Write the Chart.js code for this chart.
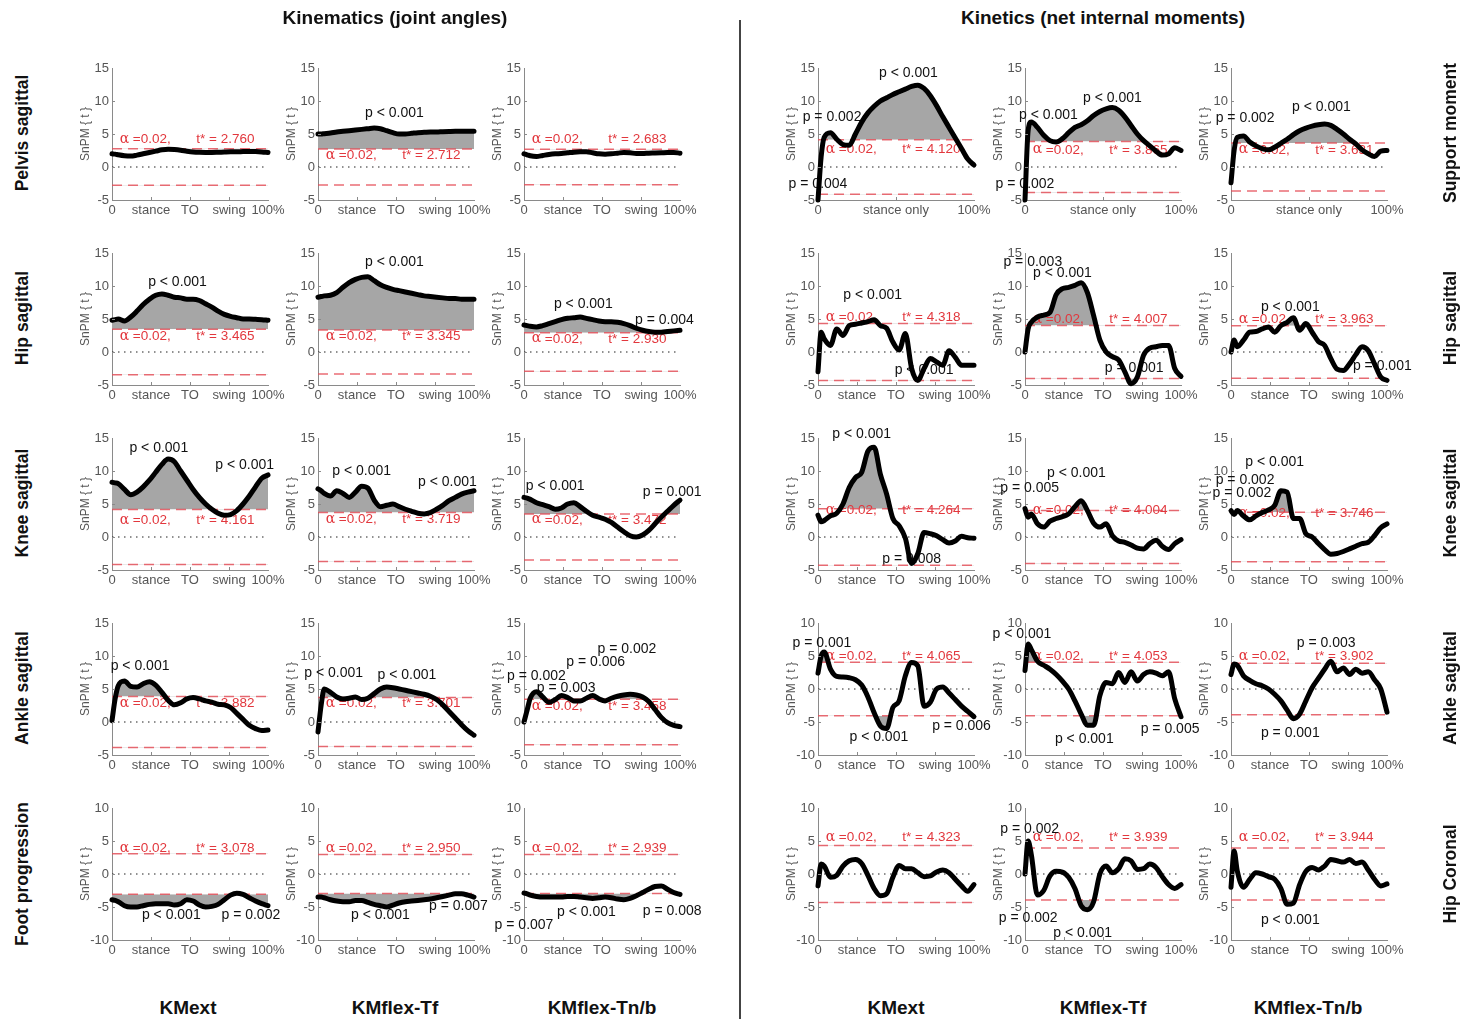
<!DOCTYPE html>
<html>
<head>
<meta charset="utf-8">
<script src="https://cdn.jsdelivr.net/npm/chart.js@4.4.1/dist/chart.umd.min.js"></script>
<style>
  html, body { margin: 0; padding: 0; background: #fff; }
  body { width: 1465px; height: 1019px; position: relative; overflow: hidden;
         font-family: "Liberation Sans", Arial, sans-serif; color: #111; }
  canvas.panel { position: absolute; }
  .head { position: absolute; font-weight: bold; font-size: 19px; white-space: nowrap;
          transform: translate(-50%, -50%); }
  .foot { position: absolute; font-weight: bold; font-size: 19px; white-space: nowrap;
          transform: translate(-50%, -50%); }
  .side { position: absolute; font-weight: bold; font-size: 17.5px; white-space: nowrap;
          transform: translate(-50%, -50%) rotate(-90deg); }
  .divider { position: absolute; left: 739px; top: 20px; width: 1.5px; height: 999px; background: #444; }
</style>
</head>
<body>
<div class="divider"></div>
<script>
// ---- gait-cycle sampling (% of cycle) shared by every SnPM{t} curve ----
const PCT = [0, 2, 4, 8, 12, 16, 20, 24, 28, 32, 36, 40, 44, 48, 52, 56, 60, 64, 68, 72, 76, 80, 84, 88, 92, 96, 100];

const GROUPS = ['KMext', 'KMflex-Tf', 'KMflex-Tn/b'];
const KINEMATIC_ROWS = ['Pelvis sagittal', 'Hip sagittal', 'Knee sagittal', 'Ankle sagittal', 'Foot progression'];
const KINETIC_ROWS = ['Support moment', 'Hip sagittal', 'Knee sagittal', 'Ankle sagittal', 'Hip Coronal'];
const GAIT_TICKS = [0, 25, 50, 75, 100];
const GAIT_LABELS = ['0', 'stance', 'TO', 'swing', '100%'];
const STANCE_TICKS = [0, 50, 100];
const STANCE_LABELS = ['0', 'stance only', '100%'];
const ALPHA = '0.02';

// ---- kinematics (joint angles) ----
const pelvisExt = [2.0,1.95,1.85,1.7,1.65,1.8,2.0,2.2,2.4,2.6,2.7,2.65,2.55,2.4,2.28,2.22,2.2,2.2,2.23,2.27,2.3,2.3,2.33,2.35,2.33,2.28,2.2];
const pelvisTf  = [5.0,5.0,5.05,5.15,5.3,5.4,5.5,5.6,5.7,5.8,5.9,5.8,5.5,5.2,5.0,5.0,5.1,5.2,5.25,5.3,5.3,5.35,5.38,5.4,5.4,5.4,5.4];
const pelvisTnb = [2.0,1.85,1.7,1.6,1.75,1.9,2.0,2.05,2.15,2.25,2.3,2.3,2.15,2.0,1.95,2.0,2.1,2.2,2.15,2.05,2.05,2.1,2.12,2.15,2.2,2.2,2.1];
const hipExt    = [4.8,4.9,5.0,4.7,5.3,6.2,7.2,8.0,8.6,8.8,8.6,8.3,8.2,8.0,8.0,7.8,7.3,6.8,6.2,5.7,5.4,5.2,5.0,5.0,4.95,4.9,4.8];
const hipTf     = [8.3,8.4,8.5,8.6,9.0,9.8,10.5,11.0,11.3,11.4,10.8,10.2,9.8,9.5,9.3,9.1,8.9,8.7,8.5,8.4,8.3,8.2,8.1,8.1,8.0,8.0,8.0];
const hipTnb    = [4.1,4.0,3.9,3.8,4.0,4.3,4.6,4.9,5.1,5.2,5.3,5.1,4.9,4.7,4.6,4.6,4.5,4.3,4.0,3.6,3.3,3.1,3.0,3.0,3.1,3.2,3.3];
const kneeExt   = [8.3,8.2,8.1,7.2,6.4,6.8,7.6,8.6,9.8,11.0,11.8,11.4,10.0,8.6,7.2,6.0,5.0,4.2,3.6,3.3,3.4,4.0,5.0,6.2,7.6,8.9,9.4];
const kneeTf    = [7.3,7.0,6.6,6.2,7.0,6.6,6.0,6.8,7.7,7.4,5.6,4.6,4.8,5.0,4.6,4.2,3.9,3.6,3.5,3.7,4.2,4.8,5.5,6.0,6.5,6.8,7.0];
const kneeTnb   = [6.0,5.9,5.7,5.2,4.9,4.6,4.2,4.4,5.0,5.2,4.6,3.9,3.3,3.0,2.7,2.2,1.5,0.8,0.2,0.0,0.3,1.0,2.0,3.0,3.9,4.8,5.6];
const ankleExt  = [0.2,3.5,5.5,6.2,5.4,5.3,5.8,6.1,5.6,4.5,3.3,2.6,2.9,3.5,3.7,3.5,3.2,3.0,2.7,2.6,2.2,1.3,0.4,-0.5,-1.0,-1.3,-1.2];
const ankleTf   = [-1.5,2.5,5.0,4.5,3.8,3.5,3.6,3.8,3.4,3.6,4.3,5.0,5.3,5.2,5.0,4.8,4.6,4.4,4.2,3.9,3.4,2.6,1.6,0.6,-0.4,-1.3,-2.0];
const ankleTnb  = [0.0,1.8,3.6,4.6,3.8,3.0,3.4,4.0,3.7,3.2,3.2,3.6,4.0,3.5,3.2,3.6,3.9,4.1,4.2,4.1,3.8,3.1,1.9,0.7,-0.1,-0.5,-0.7];
const footExt   = [-3.9,-4.0,-4.2,-4.8,-5.0,-5.0,-4.8,-4.6,-4.5,-4.5,-4.5,-4.7,-4.5,-3.9,-4.1,-4.7,-5.0,-4.9,-4.6,-3.9,-3.2,-2.9,-3.1,-3.6,-4.1,-4.5,-4.8];
const footTf    = [-3.5,-3.5,-3.6,-3.9,-4.1,-4.2,-4.2,-4.0,-4.0,-4.3,-4.6,-4.8,-5.0,-4.7,-4.4,-4.2,-4.1,-4.0,-3.9,-3.8,-3.6,-3.4,-3.2,-3.0,-3.0,-3.2,-3.5];
const footTnb   = [-2.9,-3.0,-3.2,-3.4,-3.5,-3.5,-3.5,-3.5,-3.4,-3.4,-3.5,-3.6,-3.7,-3.6,-3.5,-3.6,-3.8,-3.9,-3.7,-3.3,-2.8,-2.3,-1.9,-1.8,-2.3,-2.8,-3.1];

// ---- kinetics (net internal moments) ----
const supportExt = [-5.0,1.5,4.5,5.2,4.2,3.4,3.3,5.0,6.8,8.2,9.2,10.0,10.5,11.0,11.4,11.8,12.2,12.4,11.9,10.8,9.3,7.6,6.0,4.4,2.8,1.2,0.3];
const supportTf  = [-5.0,5.5,6.8,6.0,4.8,4.0,3.8,4.3,5.2,6.0,6.4,7.0,7.8,8.4,8.8,9.0,8.6,7.6,6.3,5.0,4.0,3.2,2.4,1.8,2.0,2.9,2.5];
const supportTnb = [-2.4,2.5,4.5,4.7,3.8,3.2,2.8,2.6,3.0,3.6,4.2,4.9,5.5,5.9,6.2,6.4,6.5,6.3,5.7,5.0,4.2,3.5,2.6,2.0,1.6,2.4,2.5];
const hipMomExt  = [-3.0,3.0,2.0,1.0,3.5,2.5,4.0,4.2,4.4,4.6,4.9,4.0,3.6,1.5,0.3,2.8,-2.5,-4.3,-2.5,-1.0,-1.5,-2.0,0.2,-0.8,-2.0,-2.0,-2.0];
const hipMomTf   = [0.0,3.5,4.5,5.3,5.6,6.0,8.7,9.6,9.8,10.1,10.5,9.0,5.5,1.8,0.0,-0.7,-1.2,-3.0,-4.8,-3.8,-0.5,0.6,0.8,1.0,1.0,-2.5,-3.7];
const hipMomTnb  = [0.0,1.8,0.8,1.8,3.0,3.1,3.5,3.8,3.0,4.0,4.5,5.2,3.3,4.3,3.0,1.6,1.0,-1.0,-2.6,-2.8,-1.8,-0.4,0.8,0.2,-1.8,-3.8,-4.3];
const kneeMomExt = [3.3,2.3,2.5,3.2,3.6,5.0,7.5,9.0,9.8,13.0,13.6,9.5,6.5,2.8,1.7,-0.2,-4.0,-2.5,0.7,0.5,0.2,-0.4,-0.9,-0.6,0.1,-0.1,-0.2];
const kneeMomTf  = [4.3,3.0,3.5,2.0,1.5,2.4,2.8,3.1,3.5,4.6,5.5,4.0,2.1,1.5,2.0,0.2,-0.6,-0.8,-1.2,-1.7,-1.8,-1.0,-0.5,-1.4,-1.9,-1.0,-0.4];
const kneeMomTnb = [4.0,3.4,4.0,3.2,2.6,3.2,3.7,4.1,4.8,7.0,6.8,2.8,2.8,0.5,0.0,-1.0,-1.9,-2.6,-2.5,-2.2,-1.8,-1.4,-1.0,-0.8,0.2,1.4,2.0];
const ankleMomExt = [2.4,5.0,5.6,3.0,1.9,1.8,1.7,1.4,0.6,-1.2,-3.6,-5.6,-6.0,-2.8,-1.8,2.0,4.0,3.5,-2.6,-2.0,0.0,0.3,-0.6,-1.6,-2.6,-3.4,-4.2];
const ankleMomTf  = [2.8,6.8,6.0,4.2,3.6,3.0,2.2,1.2,0.0,-1.8,-3.8,-5.5,-5.5,-1.0,1.0,0.8,2.5,1.0,2.6,1.2,2.2,2.6,2.4,2.0,2.6,-1.5,-4.2];
const ankleMomTnb = [2.2,3.8,3.6,2.0,1.3,0.8,0.5,0.0,-0.8,-1.8,-3.2,-4.5,-3.8,-1.8,0.2,1.6,3.0,4.2,2.6,3.2,2.2,3.0,2.4,2.6,1.4,0.0,-3.5];
const hipCorExt  = [-1.8,1.5,1.2,-0.5,-0.2,1.2,2.0,2.2,1.6,-0.2,-2.2,-3.3,-3.0,-0.5,1.3,0.8,0.8,0.2,-0.4,-0.3,0.3,0.6,0.2,-0.8,-1.8,-2.6,-1.6];
const hipCorTf   = [0.0,5.0,3.0,-3.2,-2.5,-0.3,0.4,0.3,-0.5,-2.2,-4.8,-5.4,-4.2,0.0,1.2,0.2,0.8,2.3,2.0,0.7,0.8,1.5,1.0,-0.4,-1.6,-2.2,-1.6];
const hipCorTnb  = [-2.0,3.5,0.5,-2.0,-0.8,0.2,0.0,-0.4,-0.8,-2.2,-4.6,-4.4,-1.6,0.4,1.0,0.6,1.2,2.2,2.0,1.8,2.2,1.6,1.8,0.6,-0.8,-1.8,-1.5];

// critical thresholds t* (rows x groups)
const T_KINEMATICS = [[2.760, 2.712, 2.683], [3.465, 3.345, 2.930], [4.161, 3.719, 3.472], [3.882, 3.701, 3.458], [3.078, 2.950, 2.939]];
const T_KINETICS   = [[4.120, 3.865, 3.631], [4.318, 4.007, 3.963], [4.264, 4.004, 3.746], [4.065, 4.053, 3.902], [4.323, 3.939, 3.944]];

// cluster p-values written next to the curves: [text, % cycle, t]
const P_KINEMATICS = [
  [[], [['p < 0.001', 49, 8.2]], []],
  [[['p < 0.001', 42, 10.6]], [['p < 0.001', 49, 13.6]], [['p < 0.001', 38, 7.3], ['p = 0.004', 90, 4.8]]],
  [[['p < 0.001', 30, 13.5], ['p < 0.001', 85, 10.9]], [['p < 0.001', 28, 10.0], ['p < 0.001', 83, 8.3]], [['p < 0.001', 20, 7.7], ['p = 0.001', 95, 6.8]]],
  [[['p < 0.001', 18, 8.5]], [['p < 0.001', 10, 7.4], ['p < 0.001', 57, 7.1]],
   [['p = 0.002', 66, 11.1], ['p = 0.006', 46, 9.0], ['p = 0.002', 8, 6.9], ['p = 0.003', 27, 5.2]]],
  [[['p < 0.001', 38, -6.2], ['p = 0.002', 89, -6.2]], [['p < 0.001', 40, -6.2], ['p = 0.007', 90, -4.8]],
   [['p = 0.007', 0, -7.7], ['p < 0.001', 40, -5.8], ['p = 0.008', 95, -5.6]]]
];
const P_KINETICS = [
  [[['p < 0.001', 58, 14.2], ['p = 0.002', 9, 7.6], ['p = 0.004', 0, -2.6]],
   [['p < 0.001', 15, 7.9], ['p < 0.001', 56, 10.5], ['p = 0.002', 0, -2.6]],
   [['p = 0.002', 9, 7.4], ['p < 0.001', 58, 9.1]]],
  [[['p < 0.001', 35, 8.6], ['p < 0.001', 68, -2.7]],
   [['p = 0.003', 5, 13.6], ['p < 0.001', 24, 12.0], ['p = 0.001', 70, -2.5]],
   [['p < 0.001', 38, 6.8], ['p = 0.001', 97, -2.1]]],
  [[['p < 0.001', 28, 15.6], ['p = 0.008', 60, -3.3]],
   [['p < 0.001', 33, 9.7], ['p = 0.005', 3, 7.4]],
   [['p < 0.001', 28, 11.4], ['p = 0.002', 9, 8.6], ['p = 0.002', 7, 6.6]]],
  [[['p = 0.001', 2.5, 7.0], ['p < 0.001', 39, -7.3], ['p = 0.006', 92, -5.7]],
   [['p < 0.001', -2, 8.3], ['p < 0.001', 38, -7.6], ['p = 0.005', 93, -6.1]],
   [['p = 0.003', 61, 6.9], ['p = 0.001', 38, -6.7]]],
  [[], [['p = 0.002', 3, 6.8], ['p = 0.002', 2, -6.7], ['p < 0.001', 37, -9.0]], [['p < 0.001', 38, -7.0]]]
];

const KINEMATIC_SERIES = [
  [pelvisExt, pelvisTf, pelvisTnb], [hipExt, hipTf, hipTnb], [kneeExt, kneeTf, kneeTnb],
  [ankleExt, ankleTf, ankleTnb], [footExt, footTf, footTnb]
];
const KINETIC_SERIES = [
  [supportExt, supportTf, supportTnb], [hipMomExt, hipMomTf, hipMomTnb], [kneeMomExt, kneeMomTf, kneeMomTnb],
  [ankleMomExt, ankleMomTf, ankleMomTnb], [hipCorExt, hipCorTf, hipCorTnb]
];

// ---- layout ----
const COL_LEFT = [112, 318, 524, 818, 1025, 1231];
const ROW_TOP = [68, 253, 438, 623, 808];
const PLOT_W = 156, PLOT_H = 132;
const PAD_L = 10, YAXIS_W = 38, PAD_T = 12, PAD_R = 30, XAXIS_H = 22;
const KINEMATIC_RANGE = [[-5, 15], [-5, 15], [-5, 15], [-5, 15], [-10, 10]];
const KINETIC_RANGE   = [[-5, 15], [-5, 15], [-5, 15], [-10, 10], [-10, 10]];
const KINEMATIC_TEXT_Y = [[4.2, 1.7, 4.2], [2.4, 2.4, 2.0], [2.5, 2.7, 2.6], [2.9, 2.8, 2.4], [3.9, 3.9, 3.9]];
const KINETIC_TEXT_Y   = [[2.7, 2.6, 2.6], [5.2, 5.0, 5.0], [4.1, 4.1, 3.6], [5.0, 5.0, 5.0], [5.6, 5.6, 5.6]];

const FILL = '#a6a6a6';
const RED_TEXT = '#e2373d';
const RED_DASH = 'rgba(228,72,82,0.8)';
const AXIS = '#8a8a8a';
const TICK_TEXT = '#555';
const SANS = '"Liberation Sans", Arial, sans-serif';

function addPanel(col, row, values, tStar, notes, yRange, textY, stanceOnly) {
  const cv = document.createElement('canvas');
  cv.className = 'panel';
  const W = PAD_L + YAXIS_W + PLOT_W + PAD_R;
  const H = PAD_T + PLOT_H + XAXIS_H;
  cv.width = W; cv.height = H;
  cv.style.left = (COL_LEFT[col] - PAD_L - YAXIS_W) + 'px';
  cv.style.top = (ROW_TOP[row] - PAD_T) + 'px';
  document.body.appendChild(cv);

  const pts = values.map((v, i) => ({ x: PCT[i], y: v }));
  const xTicks = stanceOnly ? STANCE_TICKS : GAIT_TICKS;
  const xLabels = stanceOnly ? STANCE_LABELS : GAIT_LABELS;
  const flat = (y) => [{ x: 0, y }, { x: 100, y }];
  const yTicks = [];
  for (let v = yRange[0]; v <= yRange[1]; v += 5) yTicks.push(v);

  const spmText = {
    id: 'spmText',
    beforeDatasetsDraw(chart) {
      const { ctx, scales: { x, y } } = chart;
      ctx.save();
      ctx.textBaseline = 'middle';
      const ty = y.getPixelForValue(textY);
      const ax = x.getPixelForValue(5);
      ctx.fillStyle = RED_TEXT;
      ctx.textAlign = 'left';
      ctx.font = '14px "DejaVu Serif", serif';
      ctx.fillText('α', ax, ty);
      ctx.font = '13.5px ' + SANS;
      ctx.fillText('=' + ALPHA + ',', ax + 13, ty);
      ctx.fillText('t* = ' + tStar.toFixed(3), x.getPixelForValue(54), ty);
      ctx.fillStyle = '#111';
      ctx.textAlign = 'center';
      ctx.font = '14px ' + SANS;
      for (const n of notes) ctx.fillText(n[0], x.getPixelForValue(n[1]), y.getPixelForValue(n[2]));
      ctx.restore();
    },
    afterDraw(chart) {
      // small inward tick marks on both axes
      const { ctx, chartArea: a, scales: { x, y } } = chart;
      ctx.save();
      ctx.strokeStyle = AXIS;
      ctx.lineWidth = 1;
      ctx.beginPath();
      for (const v of xTicks.slice(1, -1)) {
        const px = Math.round(x.getPixelForValue(v)) + 0.5;
        ctx.moveTo(px, a.bottom); ctx.lineTo(px, a.bottom - 3);
      }
      for (const v of yTicks.slice(1, -1)) {
        const py = Math.round(y.getPixelForValue(v)) + 0.5;
        ctx.moveTo(a.left, py); ctx.lineTo(a.left + 3, py);
      }
      ctx.stroke();
      ctx.restore();
    }
  };

  new Chart(cv, {
    type: 'line',
    data: {
      datasets: [
        { data: pts, borderColor: '#000', borderWidth: 5, pointRadius: 0,
          cubicInterpolationMode: 'monotone', borderCapStyle: 'round', borderJoinStyle: 'round',
          clip: false,
          fill: { target: { value: tStar }, above: FILL, below: 'rgba(0,0,0,0)' } },
        { data: flat(tStar), borderColor: RED_DASH, borderWidth: 1.5, borderDash: [10, 6], pointRadius: 0, fill: false },
        { data: flat(-tStar), borderColor: RED_DASH, borderWidth: 1.5, borderDash: [10, 6], pointRadius: 0, fill: false },
        { data: pts, borderColor: 'rgba(0,0,0,0)', borderWidth: 0, pointRadius: 0,
          cubicInterpolationMode: 'monotone',
          fill: { target: { value: -tStar }, above: 'rgba(0,0,0,0)', below: FILL } },
        { data: flat(0), borderColor: '#222', borderWidth: 1.2, borderDash: [1.5, 4.5], pointRadius: 0, fill: false }
      ]
    },
    options: {
      responsive: false,
      animation: false,
      events: [],
      layout: { padding: { left: PAD_L, top: PAD_T, right: PAD_R, bottom: 0 } },
      plugins: {
        legend: { display: false },
        tooltip: { enabled: false },
        filler: { drawTime: 'beforeDatasetsDraw' }
      },
      scales: {
        x: {
          type: 'linear', min: 0, max: 100,
          afterBuildTicks: (s) => { s.ticks = xTicks.map(v => ({ value: v })); },
          afterFit: (s) => { s.height = XAXIS_H; },
          ticks: {
            autoSkip: false, maxRotation: 0, padding: 3, color: TICK_TEXT,
            font: { family: SANS, size: 13 },
            callback: (v) => xLabels[xTicks.indexOf(v)]
          },
          grid: { display: false, drawTicks: false },
          border: { display: true, color: AXIS, width: 1 }
        },
        y: {
          min: yRange[0], max: yRange[1],
          afterBuildTicks: (s) => { s.ticks = yTicks.map(v => ({ value: v })); },
          afterFit: (s) => { s.width = YAXIS_W; },
          ticks: { padding: 3, color: TICK_TEXT, font: { family: SANS, size: 13 } },
          grid: { display: false, drawTicks: false },
          border: { display: true, color: AXIS, width: 1 },
          title: { display: true, text: 'SnPM { t }', color: TICK_TEXT,
                   font: { family: SANS, size: 12 }, padding: { top: 4, bottom: 0 } }
        }
      }
    },
    plugins: [spmText]
  });
}

for (let r = 0; r < 5; r++) {
  for (let g = 0; g < 3; g++) {
    addPanel(g, r, KINEMATIC_SERIES[r][g], T_KINEMATICS[r][g], P_KINEMATICS[r][g],
             KINEMATIC_RANGE[r], KINEMATIC_TEXT_Y[r][g], false);
    addPanel(g + 3, r, KINETIC_SERIES[r][g], T_KINETICS[r][g], P_KINETICS[r][g],
             KINETIC_RANGE[r], KINETIC_TEXT_Y[r][g], r === 0);
  }
}

// ---- headings and row/column labels ----
function label(cls, text, x, y) {
  const d = document.createElement('div');
  d.className = cls;
  d.textContent = text;
  d.style.left = x + 'px';
  d.style.top = y + 'px';
  document.body.appendChild(d);
}
label('head', 'Kinematics (joint angles)', 395, 18);
label('head', 'Kinetics (net internal moments)', 1103, 18);
const FOOT_X = [188, 395, 602, 896, 1103, 1308];
FOOT_X.forEach((x, i) => label('foot', GROUPS[i % 3], x, 1008));
const ROW_CENTER = [133, 318, 503, 688, 874];
KINEMATIC_ROWS.forEach((t, i) => label('side', t, 22, ROW_CENTER[i]));
KINETIC_ROWS.forEach((t, i) => label('side', t, 1450, ROW_CENTER[i]));
</script>
</body>
</html>
